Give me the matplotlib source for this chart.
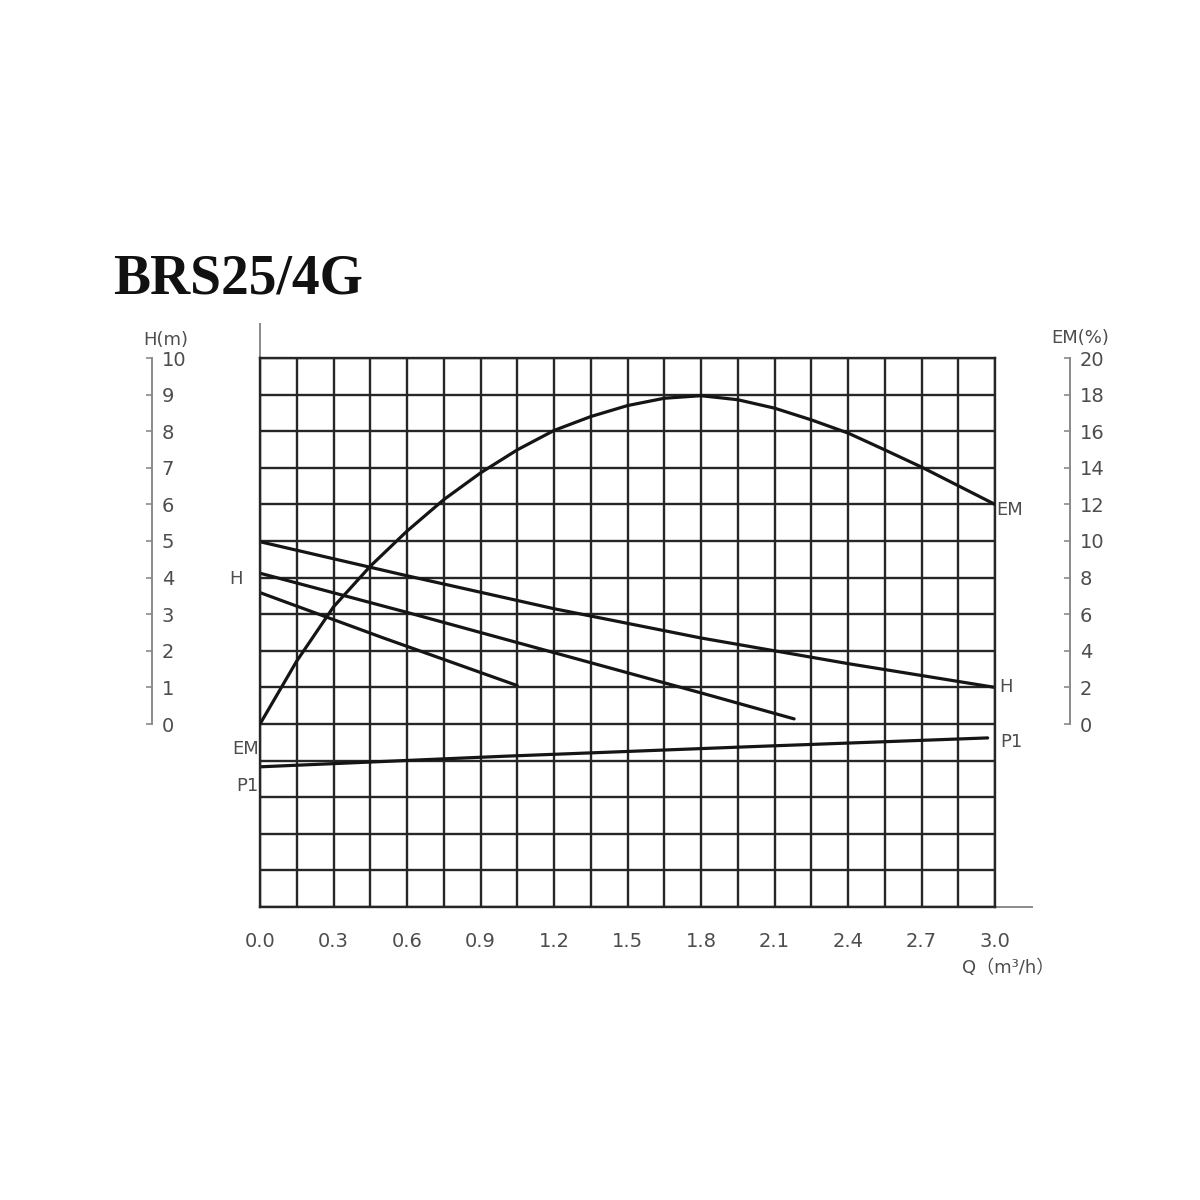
import numpy as np
import matplotlib.pyplot as plt

plt.rcParams["font.family"] = ["DejaVu Sans", "Noto Sans CJK SC"]

# Flow rate Q (m3/h) and curve readings
q_em = [0.0, 0.15, 0.3, 0.45, 0.6, 0.75, 0.9, 1.05, 1.2, 1.35, 1.5, 1.65, 1.8,
        1.95, 2.1, 2.25, 2.4, 2.55, 2.7, 2.85, 3.0]
em = [0.0, 3.44, 6.4, 8.62, 10.54, 12.26, 13.72, 14.98, 16.04, 16.8, 17.4, 17.8,
      17.94, 17.72, 17.26, 16.62, 15.9, 14.98, 14.04, 13.02, 12.0]  # efficiency %

q_h_high = [0.0, 0.6, 1.2, 1.8, 2.4, 3.0]
h_high = [4.98, 4.05, 3.15, 2.35, 1.65, 1.0]
q_h_mid = [0.0, 0.6, 1.2, 1.8, 2.18]
h_mid = [4.12, 3.05, 1.95, 0.85, 0.14]
q_h_low = [0.0, 0.5, 1.05]
h_low = [3.59, 2.36, 1.05]

# P1 has no own scale, values in grid units
q_p1 = [0.0, 1.0, 2.0, 2.97]
p1 = [-1.17, -0.88, -0.62, -0.38]

x_ticks = [0.0, 0.3, 0.6, 0.9, 1.2, 1.5, 1.8, 2.1, 2.4, 2.7, 3.0]
h_ticks = list(range(0, 11))
em_ticks = list(range(0, 21, 2))

grid_col = "#262626"
txt_col = "#4d4d4d"
scale_col = "#8a8a8a"
curve_kw = dict(color="#151515", lw=2.3, solid_joinstyle="round", solid_capstyle="round")

fig = plt.figure(figsize=(12, 12), dpi=100)
ax = fig.add_axes([260 / 1200, 1 - 907 / 1200, 735 / 1200, 549 / 1200])
ax.set_xlim(0, 3)
ax.set_ylim(-5, 10)
ax.set_xticks(x_ticks)
ax.set_xticklabels([f"{v:.1f}" for v in x_ticks])
ax.set_xticks(np.arange(0.15, 3.0, 0.3), minor=True)
ax.set_yticks(np.arange(-5, 11, 1))
ax.set_yticklabels([])
ax.grid(True, which="both", color=grid_col, linewidth=1.7)
ax.tick_params(which="both", length=0)
ax.tick_params(axis="x", pad=18, labelsize=14, labelcolor=txt_col)
for s in ax.spines.values():
    s.set_color(grid_col)
    s.set_linewidth(1.7)

# axis extensions (vertical above grid, horizontal right of grid)
ax.plot([0, 0], [1, 1.062], transform=ax.transAxes, color=scale_col, lw=1.4, clip_on=False)
ax.plot([1, 1.05], [0, 0], transform=ax.transAxes, color=scale_col, lw=1.4, clip_on=False)

# curves
ax.plot(q_h_high, h_high, **curve_kw)
ax.plot(q_h_mid, h_mid, **curve_kw)
ax.plot(q_h_low, h_low, **curve_kw)
ax.plot(q_p1, p1, **curve_kw)

# left H scale
ax_h = ax.twinx()
ax_h.set_ylim(-5, 10)
for k in ["top", "bottom", "left"]:
    ax_h.spines[k].set_visible(False)
ax_h.spines["right"].set_position(("axes", -0.147))
ax_h.spines["right"].set_bounds(0, 10)
ax_h.spines["right"].set_color(scale_col)
ax_h.spines["right"].set_linewidth(1.4)
ax_h.set_yticks(h_ticks)
ax_h.tick_params(axis="y", direction="in", length=4, width=1.2, color=scale_col,
                 pad=7, labelsize=14, labelcolor=txt_col)

# right EM scale
ax_em = ax.twinx()
ax_em.set_ylim(-10, 20)
for k in ["top", "bottom", "left"]:
    ax_em.spines[k].set_visible(False)
ax_em.spines["right"].set_position(("axes", 1.102))
ax_em.spines["right"].set_bounds(0, 20)
ax_em.spines["right"].set_color(scale_col)
ax_em.spines["right"].set_linewidth(1.4)
ax_em.set_yticks(em_ticks)
ax_em.tick_params(axis="y", direction="in", length=4, width=1.2, color=scale_col,
                  pad=7, labelsize=14, labelcolor=txt_col)
ax_em.plot(q_em, em, **curve_kw)

# curve labels
lab = dict(fontsize=13, color=txt_col, textcoords="offset points", annotation_clip=False)
ax.annotate("H", (q_h_mid[0], h_mid[0]), xytext=(-17, -4), ha="center", va="center", **lab)
ax_em.annotate("EM", (q_em[0], em[0]), xytext=(-1, -18), ha="right", va="center", **lab)
ax.annotate("P1", (q_p1[0], p1[0]), xytext=(-1, -14), ha="right", va="center", **lab)
ax_em.annotate("EM", (q_em[-1], em[-1]), xytext=(1, -4), ha="left", va="center", **lab)
ax.annotate("H", (q_h_high[-1], h_high[-1]), xytext=(3, 0), ha="left", va="center", **lab)
ax.annotate("P1", (q_p1[-1], p1[-1]), xytext=(9, -3), ha="left", va="center", **lab)

# axis titles
fig.text(166 / 1200, 1 - 340 / 1200, "H(m)", fontsize=13, color=txt_col, ha="center", va="center")
fig.text(1080 / 1200, 1 - 338 / 1200, "EM(%)", fontsize=13, color=txt_col, ha="center", va="center")
fig.text(1008 / 1200, 1 - 968 / 1200, "Q（m³/h）", fontsize=13, color=txt_col, ha="center", va="center")

fig.text(113 / 1200, 1 - 293 / 1200, "BRS25/4G", fontsize=40, fontweight="bold",
         family="Liberation Serif", color="#111111", ha="left", va="baseline")

fig.savefig("out.png", dpi=100, facecolor="white")
